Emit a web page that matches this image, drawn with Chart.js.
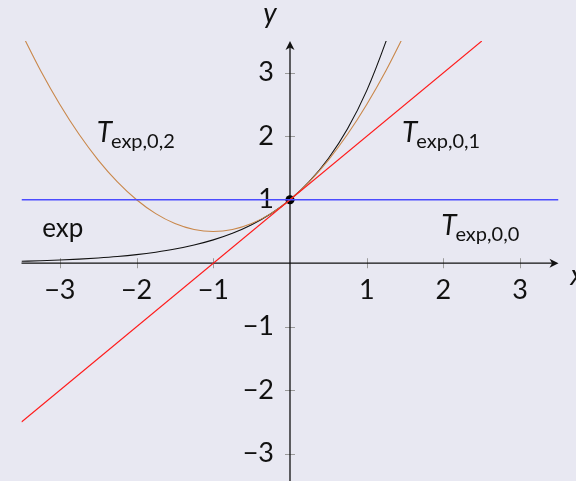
<!DOCTYPE html>
<html>
<head>
<meta charset="utf-8">
<script src="https://cdn.jsdelivr.net/npm/chart.js@4"></script>
<style>
  html, body { margin: 0; padding: 0; background: #e8e8f2; overflow: hidden; }
  #wrap { width: 576px; height: 481px; }
</style>
</head>
<body>
<div id="wrap"><canvas id="chart" width="576" height="481"></canvas></div>
<script>
// values
const expX = [-3.5, -3.25, -3, -2.75, -2.5, -2.25, -2, -1.75, -1.5, -1.25, -1, -0.75, -0.5, -0.25, 0, 0.25, 0.5, 0.75, 1, 1.25, 1.3];
const expY = [0.0302, 0.0388, 0.0498, 0.0639, 0.0821, 0.105, 0.135, 0.174, 0.223, 0.287, 0.368, 0.472, 0.607, 0.779, 1, 1.284, 1.649, 2.117, 2.718, 3.49, 3.67];

const t2X = [-3.5, -3.25, -3, -2.75, -2.5, -2.25, -2, -1.75, -1.5, -1.25, -1, -0.75, -0.5, -0.25, 0, 0.25, 0.5, 0.75, 1, 1.25, 1.5];
const t2Y = [3.625, 3.031, 2.5, 2.031, 1.625, 1.281, 1, 0.781, 0.625, 0.531, 0.5, 0.531, 0.625, 0.781, 1, 1.281, 1.625, 2.031, 2.5, 3.031, 3.625];

const t1X = [-3.5, 2.5];
const t1Y = [-2.5, 3.5];

const t0X = [-3.5, 3.5];
const t0Y = [1, 1];

const xTicks = [-3, -2, -1, 1, 2, 3];
const yTicks = [-3, -2, -1, 1, 2, 3];

const pts = (xs, ys) => xs.map((x, i) => ({ x, y: ys[i] }));

const FONT = 'Lato, "Liberation Sans", sans-serif';

const axes = {
  id: 'axes',
  beforeDatasetsDraw(chart) {
    const { ctx, chartArea: a, scales: { x, y } } = chart;
    const x0 = x.getPixelForValue(0);
    const y0 = y.getPixelForValue(0);
    ctx.save();

    // tick marks
    ctx.strokeStyle = '#9a9a9a';
    ctx.lineWidth = 1;
    ctx.beginPath();
    xTicks.forEach(v => {
      const px = Math.round(x.getPixelForValue(v)) + 0.5;
      ctx.moveTo(px, y0 - 5); ctx.lineTo(px, y0 + 5);
    });
    yTicks.forEach(v => {
      const py = Math.round(y.getPixelForValue(v)) + 0.5;
      ctx.moveTo(x0 - 5, py); ctx.lineTo(x0 + 5, py);
    });
    ctx.stroke();

    // axis lines
    ctx.strokeStyle = '#111';
    ctx.fillStyle = '#111';
    ctx.lineWidth = 1.3;
    ctx.beginPath();
    ctx.moveTo(a.left, y0); ctx.lineTo(a.right - 3, y0);
    ctx.moveTo(x0, a.bottom); ctx.lineTo(x0, a.top + 3);
    ctx.stroke();

    // arrow heads
    ctx.beginPath();
    ctx.moveTo(a.right, y0);
    ctx.lineTo(a.right - 9, y0 - 4.5);
    ctx.lineTo(a.right - 6.5, y0);
    ctx.lineTo(a.right - 9, y0 + 4.5);
    ctx.closePath();
    ctx.fill();
    ctx.beginPath();
    ctx.moveTo(x0, a.top);
    ctx.lineTo(x0 - 4.5, a.top + 9);
    ctx.lineTo(x0, a.top + 6.5);
    ctx.lineTo(x0 + 4.5, a.top + 9);
    ctx.closePath();
    ctx.fill();

    // tick labels
    ctx.fillStyle = '#111';
    ctx.font = '27px ' + FONT;
    ctx.textBaseline = 'middle';
    ctx.textAlign = 'center';
    xTicks.forEach(v => {
      const s = v < 0 ? '\u2212' + Math.abs(v) : String(v);
      ctx.fillText(s, x.getPixelForValue(v), y0 + 27);
    });
    ctx.textAlign = 'right';
    yTicks.forEach(v => {
      const s = v < 0 ? '\u2212' + Math.abs(v) : String(v);
      ctx.fillText(s, x0 - 16, y.getPixelForValue(v));
    });

    // axis names
    ctx.font = 'italic 28px ' + FONT;
    ctx.textAlign = 'center';
    ctx.textBaseline = 'alphabetic';
    ctx.fillText('y', x0 - 20, a.top - 18);
    ctx.textAlign = 'left';
    ctx.fillText('x', a.right + 12, y0 + 22);
    ctx.restore();
  },
  afterDatasetsDraw(chart) {
    const { ctx, scales: { x, y } } = chart;
    ctx.save();
    ctx.fillStyle = '#111';
    ctx.textBaseline = 'alphabetic';
    ctx.textAlign = 'left';
    const taylor = (sub, vx, vy) => {
      const px = x.getPixelForValue(vx), py = y.getPixelForValue(vy);
      ctx.font = 'italic 28px ' + FONT;
      ctx.fillText('T', px, py);
      const w = ctx.measureText('T').width;
      ctx.font = '20px ' + FONT;
      ctx.fillText(sub, px + w - 1, py + 6);
    };
    taylor('exp,0,2', -2.52, 1.91);
    taylor('exp,0,1', 1.46, 1.91);
    taylor('exp,0,0', 1.97, 0.45);
    ctx.font = '26px ' + FONT;
    ctx.fillText('exp', x.getPixelForValue(-3.23), y.getPixelForValue(0.41));
    ctx.restore();
  }
};

const line = (data, color, width) => ({
  data, borderColor: color, borderWidth: width, pointRadius: 0,
  cubicInterpolationMode: 'monotone', fill: false
});

new Chart(document.getElementById('chart'), {
  type: 'line',
  data: {
    datasets: [
      line(pts(t0X, t0Y), '#4b4bff', 1.4),
      line(pts(t1X, t1Y), '#ff1a1a', 1.1),
      line(pts(t2X, t2Y), '#c9874a', 1.1),
      line(pts(expX, expY), '#111', 1.1),
      { data: [{ x: 0, y: 1 }], showLine: false, pointRadius: 4.5,
        pointBackgroundColor: '#000', pointBorderWidth: 0 }
    ]
  },
  options: {
    responsive: false,
    animation: false,
    devicePixelRatio: 1,
    layout: { autoPadding: false, padding: { left: 21.5, right: 17.5, top: 41, bottom: 0 } },
    scales: {
      x: { type: 'linear', min: -3.5, max: 3.5, display: false },
      y: { type: 'linear', min: -3.43, max: 3.5, display: false }
    },
    plugins: { legend: { display: false }, tooltip: { enabled: false } }
  },
  plugins: [axes]
});
</script>
</body>
</html>
